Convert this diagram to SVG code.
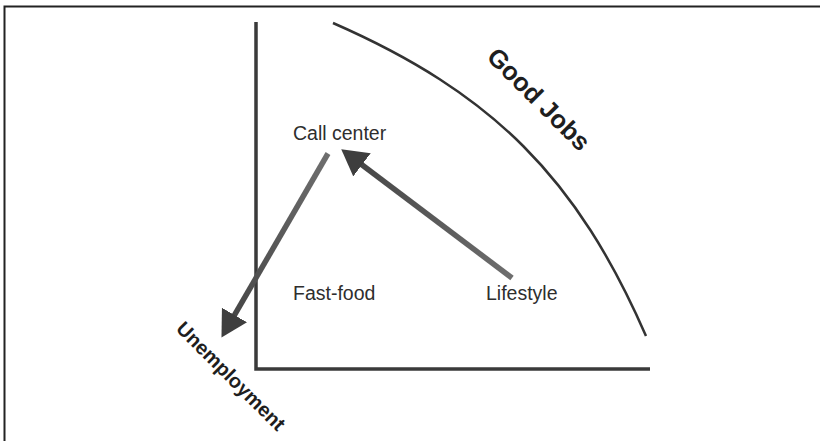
<svg xmlns="http://www.w3.org/2000/svg" width="820" height="441" viewBox="0 0 820 441">
  <style>
    .lbl { font-family: "Liberation Sans", Arial, sans-serif; font-size: 19.5px; fill: #2e2e2e; }
    .big { font-family: "Liberation Sans", Arial, sans-serif; font-weight: bold; fill: #1e1e1e; }
    .axis { fill: none; stroke: #3a3a3a; stroke-width: 3.5; stroke-linecap: butt; }
    .curve { fill: none; stroke: #333333; stroke-width: 2.5; }
    .frame { fill: none; stroke: #222222; stroke-width: 2; }
    .shaft { fill: none; stroke-width: 5.5; stroke-linecap: butt; }
  </style>
  <defs>
    <marker id="head" markerUnits="userSpaceOnUse" markerWidth="27" markerHeight="30" refX="1" refY="14.5" orient="auto" viewBox="0 0 27 30">
      <path d="M0,0 L26,14.5 L0,29 Z" fill="#3e3e3e"/>
    </marker>
    <linearGradient id="g1" gradientUnits="userSpaceOnUse" x1="512" y1="278" x2="361" y2="164">
      <stop offset="0" stop-color="#6e6e6e"/>
      <stop offset="1" stop-color="#474747"/>
    </linearGradient>
    <linearGradient id="g2" gradientUnits="userSpaceOnUse" x1="328" y1="153.5" x2="234" y2="316">
      <stop offset="0" stop-color="#6e6e6e"/>
      <stop offset="1" stop-color="#474747"/>
    </linearGradient>
  </defs>

  <rect x="0" y="0" width="820" height="441" fill="#ffffff"/>
  <path class="frame" d="M4.5,441 V6.5 H820"/>

  <g id="axes">
    <path class="axis" d="M256,22 V369 H650"/>
  </g>

  <g id="good-jobs-curve">
    <path class="curve" d="M333,23 C493,93 577,178 646,336"/>
  </g>

  <g id="connectors">
    <line class="shaft" x1="512" y1="278" x2="361.2" y2="164.2" stroke="url(#g1)" marker-end="url(#head)"/>
    <line class="shaft" x1="328" y1="153.5" x2="234" y2="315.9" stroke="url(#g2)" marker-end="url(#head)"/>
  </g>

  <g id="call-center">
    <text class="lbl" x="293" y="140">Call center</text>
  </g>
  <g id="fast-food">
    <text class="lbl" x="293" y="300">Fast-food</text>
  </g>
  <g id="lifestyle">
    <text class="lbl" x="486" y="300">Lifestyle</text>
  </g>
  <g id="good-jobs">
    <text class="big" font-size="25.5" text-anchor="middle" transform="translate(539,99) rotate(45)" y="9">Good Jobs</text>
  </g>
  <g id="unemployment">
    <text class="big" font-size="20" text-anchor="middle" transform="translate(231,376) rotate(45)" y="7">Unemployment</text>
  </g>
</svg>
